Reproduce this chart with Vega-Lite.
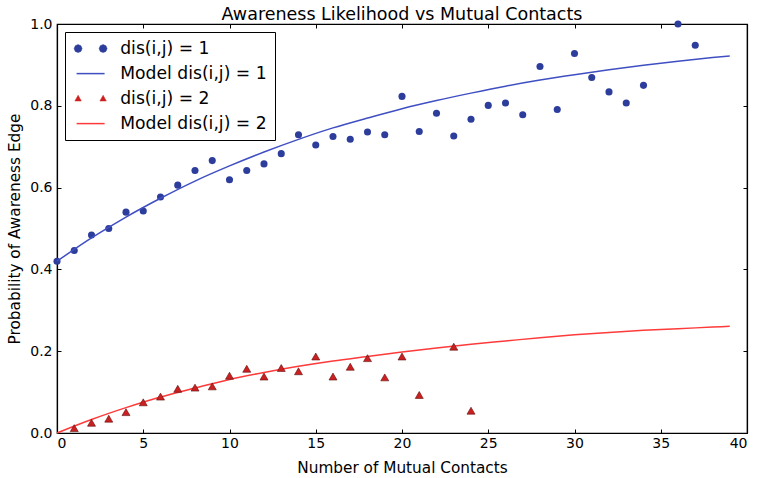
{
  "$schema": "https://vega.github.io/schema/vega-lite/v6.json",
  "autosize": {"type": "none"},
  "padding": {"left": 57, "top": 24, "right": 10, "bottom": 45},
  "width": 690,
  "height": 409,
  "background": "white",
  "title": {"text": "Awareness Likelihood vs Mutual Contacts", "font": "DejaVu Sans", "fontSize": 17.5, "fontWeight": "normal", "color": "black", "anchor": "middle", "baseline": "alphabetic", "offset": -20},
  "config": {
    "view": {"stroke": "black", "strokeWidth": 1.2},
    "axis": {"labelFont": "DejaVu Sans", "labelFontSize": 14, "labelColor": "black", "titleFont": "DejaVu Sans", "titleFontSize": 15.3, "titleFontWeight": "normal", "titleColor": "black", "domainColor": "black", "domainWidth": 1.2, "tickColor": "black", "tickWidth": 1, "tickSize": -4, "grid": false},
    "legend": {"labelFont": "DejaVu Sans", "labelFontSize": 17.2, "labelColor": "black", "labelLimit": 400}
  },
  "datasets": {
    "points": [
      {"x": 0, "p": 0.42, "series": "dis(i,j) = 1"},
      {"x": 1, "p": 0.446, "series": "dis(i,j) = 1"},
      {"x": 2, "p": 0.484, "series": "dis(i,j) = 1"},
      {"x": 3, "p": 0.5, "series": "dis(i,j) = 1"},
      {"x": 4, "p": 0.54, "series": "dis(i,j) = 1"},
      {"x": 5, "p": 0.543, "series": "dis(i,j) = 1"},
      {"x": 6, "p": 0.577, "series": "dis(i,j) = 1"},
      {"x": 7, "p": 0.606, "series": "dis(i,j) = 1"},
      {"x": 8, "p": 0.642, "series": "dis(i,j) = 1"},
      {"x": 9, "p": 0.666, "series": "dis(i,j) = 1"},
      {"x": 10, "p": 0.619, "series": "dis(i,j) = 1"},
      {"x": 11, "p": 0.642, "series": "dis(i,j) = 1"},
      {"x": 12, "p": 0.658, "series": "dis(i,j) = 1"},
      {"x": 13, "p": 0.683, "series": "dis(i,j) = 1"},
      {"x": 14, "p": 0.729, "series": "dis(i,j) = 1"},
      {"x": 15, "p": 0.704, "series": "dis(i,j) = 1"},
      {"x": 16, "p": 0.725, "series": "dis(i,j) = 1"},
      {"x": 17, "p": 0.718, "series": "dis(i,j) = 1"},
      {"x": 18, "p": 0.736, "series": "dis(i,j) = 1"},
      {"x": 19, "p": 0.729, "series": "dis(i,j) = 1"},
      {"x": 20, "p": 0.823, "series": "dis(i,j) = 1"},
      {"x": 21, "p": 0.737, "series": "dis(i,j) = 1"},
      {"x": 22, "p": 0.782, "series": "dis(i,j) = 1"},
      {"x": 23, "p": 0.726, "series": "dis(i,j) = 1"},
      {"x": 24, "p": 0.767, "series": "dis(i,j) = 1"},
      {"x": 25, "p": 0.801, "series": "dis(i,j) = 1"},
      {"x": 26, "p": 0.807, "series": "dis(i,j) = 1"},
      {"x": 27, "p": 0.778, "series": "dis(i,j) = 1"},
      {"x": 28, "p": 0.896, "series": "dis(i,j) = 1"},
      {"x": 29, "p": 0.791, "series": "dis(i,j) = 1"},
      {"x": 30, "p": 0.928, "series": "dis(i,j) = 1"},
      {"x": 31, "p": 0.869, "series": "dis(i,j) = 1"},
      {"x": 32, "p": 0.834, "series": "dis(i,j) = 1"},
      {"x": 33, "p": 0.807, "series": "dis(i,j) = 1"},
      {"x": 34, "p": 0.85, "series": "dis(i,j) = 1"},
      {"x": 36, "p": 1.0, "series": "dis(i,j) = 1"},
      {"x": 37, "p": 0.948, "series": "dis(i,j) = 1"},
      {"x": 1, "p": 0.012, "series": "dis(i,j) = 2"},
      {"x": 2, "p": 0.025, "series": "dis(i,j) = 2"},
      {"x": 3, "p": 0.035, "series": "dis(i,j) = 2"},
      {"x": 4, "p": 0.051, "series": "dis(i,j) = 2"},
      {"x": 5, "p": 0.075, "series": "dis(i,j) = 2"},
      {"x": 6, "p": 0.089, "series": "dis(i,j) = 2"},
      {"x": 7, "p": 0.108, "series": "dis(i,j) = 2"},
      {"x": 8, "p": 0.111, "series": "dis(i,j) = 2"},
      {"x": 9, "p": 0.114, "series": "dis(i,j) = 2"},
      {"x": 10, "p": 0.14, "series": "dis(i,j) = 2"},
      {"x": 11, "p": 0.157, "series": "dis(i,j) = 2"},
      {"x": 12, "p": 0.138, "series": "dis(i,j) = 2"},
      {"x": 13, "p": 0.159, "series": "dis(i,j) = 2"},
      {"x": 14, "p": 0.151, "series": "dis(i,j) = 2"},
      {"x": 15, "p": 0.187, "series": "dis(i,j) = 2"},
      {"x": 16, "p": 0.138, "series": "dis(i,j) = 2"},
      {"x": 17, "p": 0.162, "series": "dis(i,j) = 2"},
      {"x": 18, "p": 0.183, "series": "dis(i,j) = 2"},
      {"x": 19, "p": 0.136, "series": "dis(i,j) = 2"},
      {"x": 20, "p": 0.187, "series": "dis(i,j) = 2"},
      {"x": 21, "p": 0.093, "series": "dis(i,j) = 2"},
      {"x": 23, "p": 0.211, "series": "dis(i,j) = 2"},
      {"x": 24, "p": 0.0545, "series": "dis(i,j) = 2"}
    ],
    "model": [
      {"x": 0, "p": 0.42, "series": "Model dis(i,j) = 1"},
      {"x": 2, "p": 0.477, "series": "Model dis(i,j) = 1"},
      {"x": 4, "p": 0.528, "series": "Model dis(i,j) = 1"},
      {"x": 6, "p": 0.574, "series": "Model dis(i,j) = 1"},
      {"x": 8, "p": 0.616, "series": "Model dis(i,j) = 1"},
      {"x": 10, "p": 0.653, "series": "Model dis(i,j) = 1"},
      {"x": 12, "p": 0.687, "series": "Model dis(i,j) = 1"},
      {"x": 14, "p": 0.718, "series": "Model dis(i,j) = 1"},
      {"x": 16, "p": 0.746, "series": "Model dis(i,j) = 1"},
      {"x": 18, "p": 0.77, "series": "Model dis(i,j) = 1"},
      {"x": 20, "p": 0.793, "series": "Model dis(i,j) = 1"},
      {"x": 22, "p": 0.813, "series": "Model dis(i,j) = 1"},
      {"x": 24, "p": 0.831, "series": "Model dis(i,j) = 1"},
      {"x": 26, "p": 0.848, "series": "Model dis(i,j) = 1"},
      {"x": 28, "p": 0.863, "series": "Model dis(i,j) = 1"},
      {"x": 30, "p": 0.876, "series": "Model dis(i,j) = 1"},
      {"x": 32, "p": 0.888, "series": "Model dis(i,j) = 1"},
      {"x": 34, "p": 0.899, "series": "Model dis(i,j) = 1"},
      {"x": 36, "p": 0.909, "series": "Model dis(i,j) = 1"},
      {"x": 38, "p": 0.918, "series": "Model dis(i,j) = 1"},
      {"x": 39, "p": 0.922, "series": "Model dis(i,j) = 1"},
      {"x": 0, "p": 0.0, "series": "Model dis(i,j) = 2"},
      {"x": 2, "p": 0.033, "series": "Model dis(i,j) = 2"},
      {"x": 4, "p": 0.062, "series": "Model dis(i,j) = 2"},
      {"x": 6, "p": 0.088, "series": "Model dis(i,j) = 2"},
      {"x": 8, "p": 0.11, "series": "Model dis(i,j) = 2"},
      {"x": 10, "p": 0.131, "series": "Model dis(i,j) = 2"},
      {"x": 12, "p": 0.148, "series": "Model dis(i,j) = 2"},
      {"x": 14, "p": 0.163, "series": "Model dis(i,j) = 2"},
      {"x": 16, "p": 0.176, "series": "Model dis(i,j) = 2"},
      {"x": 18, "p": 0.187, "series": "Model dis(i,j) = 2"},
      {"x": 20, "p": 0.198, "series": "Model dis(i,j) = 2"},
      {"x": 22, "p": 0.208, "series": "Model dis(i,j) = 2"},
      {"x": 24, "p": 0.217, "series": "Model dis(i,j) = 2"},
      {"x": 26, "p": 0.225, "series": "Model dis(i,j) = 2"},
      {"x": 28, "p": 0.233, "series": "Model dis(i,j) = 2"},
      {"x": 30, "p": 0.24, "series": "Model dis(i,j) = 2"},
      {"x": 32, "p": 0.246, "series": "Model dis(i,j) = 2"},
      {"x": 34, "p": 0.251, "series": "Model dis(i,j) = 2"},
      {"x": 36, "p": 0.255, "series": "Model dis(i,j) = 2"},
      {"x": 38, "p": 0.259, "series": "Model dis(i,j) = 2"},
      {"x": 39, "p": 0.261, "series": "Model dis(i,j) = 2"}
    ]
  },
  "resolve": {"axis": {"x": "independent", "y": "independent"}},
  "encoding": {
    "color": {"field": "series", "type": "nominal",
              "scale": {"domain": ["dis(i,j) = 1", "Model dis(i,j) = 1", "dis(i,j) = 2", "Model dis(i,j) = 2"], "range": ["#2d3d9b", "#3f4fc2", "#cc2020", "#ff3a3a"]},
              "legend": {"title": null, "orient": "none", "legendX": 8, "legendY": 8, "padding": 8, "rowPadding": 7, "strokeColor": "black", "fillColor": "white", "cornerRadius": 0,
                         "symbolSize": 256, "symbolOffset": 9, "labelOffset": 21,
                         "encode": {"symbols": {"update": {
                           "shape": {"signal": "datum.value == 'dis(i,j) = 1' ? 'M-1.0625,0L-1.2085,0.354L-1.5625,0.5L-1.9165,0.354L-2.0625,0L-1.9165,-0.354L-1.5625,-0.5L-1.2085,-0.354ZM2.0625,0L1.9165,0.354L1.5625,0.5L1.2085,0.354L1.0625,0L1.2085,-0.354L1.5625,-0.5L1.9165,-0.354Z' : (datum.value == 'dis(i,j) = 2' ? 'M-1.5625,-0.42L-1.1625,0.3L-1.9625,0.3ZM1.5625,-0.42L1.9625,0.3L1.1625,0.3Z' : 'M-1.75,0L1.75,0')"},
                           "fill": {"signal": "datum.value == 'dis(i,j) = 1' ? '#2d3d9b' : (datum.value == 'dis(i,j) = 2' ? '#cc2020' : 'transparent')"},
                           "stroke": {"signal": "datum.value == 'Model dis(i,j) = 1' ? '#3f4fc2' : (datum.value == 'Model dis(i,j) = 2' ? '#ff3a3a' : (datum.value == 'dis(i,j) = 2' ? '#5c0d0d' : '#2d3d9b'))"},
                           "strokeWidth": {"signal": "(datum.value == 'Model dis(i,j) = 1' || datum.value == 'Model dis(i,j) = 2') ? 1.5 : 0.5"}
                         }}}}}
  },
  "layer": [
    {
      "data": {"name": "points"},
      "transform": [{"filter": "datum.series === 'dis(i,j) = 1'"}],
      "mark": {"type": "point", "shape": "circle", "filled": true, "size": 50, "opacity": 1},
      "encoding": {
        "x": {"field": "x", "type": "quantitative", "scale": {"domain": [0, 40], "nice": false, "zero": false},
              "axis": {"orient": "bottom", "values": [0, 5, 10, 15, 20, 25, 30, 35, 40], "format": "d", "labelBaseline": "alphabetic", "labelPadding": 18.5, "title": "Number of Mutual Contacts", "titleBaseline": "alphabetic", "titleY": 39.4}},
        "y": {"field": "p", "type": "quantitative", "scale": {"domain": [0, 1], "nice": false},
              "axis": {"orient": "left", "values": [0, 0.2, 0.4, 0.6, 0.8, 1.0], "format": ".1f", "labelPadding": 9, "title": "Probability of Awareness Edge", "titleBaseline": "alphabetic", "titleX": -37.5, "titleY": 204.5, "titleAngle": -90, "titleAlign": "center"}}
      }
    },
    {
      "data": {"name": "model"},
      "mark": {"type": "line", "strokeWidth": 1.5, "interpolate": "monotone"},
      "encoding": {
        "x": {"field": "x", "type": "quantitative", "axis": {"orient": "top", "values": [0, 5, 10, 15, 20, 25, 30, 35, 40], "labels": false, "title": null}},
        "y": {"field": "p", "type": "quantitative", "axis": {"orient": "right", "values": [0, 0.2, 0.4, 0.6, 0.8, 1.0], "labels": false, "title": null}}
      }
    },
    {
      "data": {"name": "points"},
      "transform": [{"filter": "datum.series === 'dis(i,j) = 2'"}],
      "mark": {"type": "point", "shape": "triangle-up", "filled": true, "size": 64, "opacity": 1, "stroke": "#5c0d0d", "strokeWidth": 0.6},
      "encoding": {
        "x": {"field": "x", "type": "quantitative", "axis": null},
        "y": {"field": "p", "type": "quantitative", "axis": null}
      }
    }
  ]
}
